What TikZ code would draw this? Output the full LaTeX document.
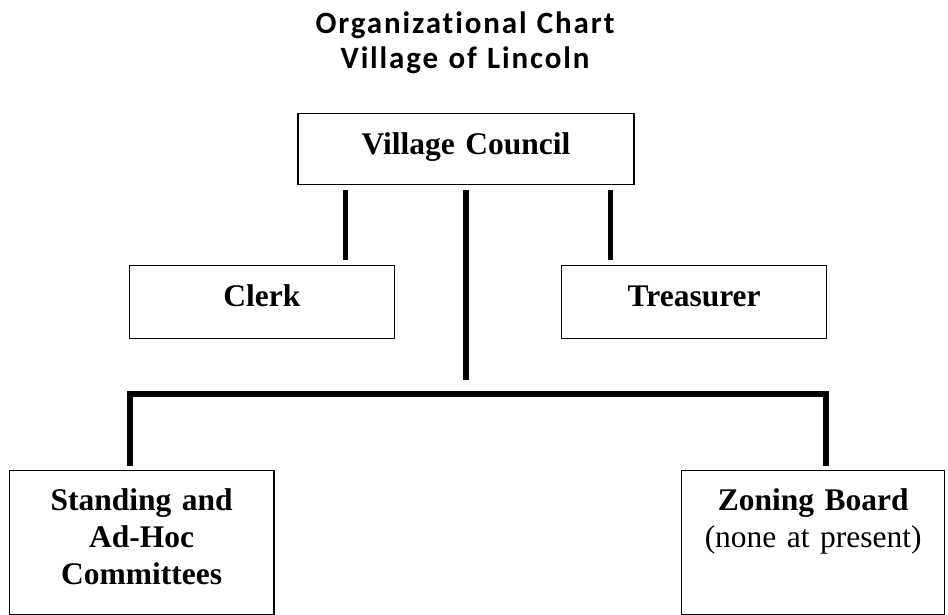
\documentclass[tikz,border=0pt]{standalone}
\usepackage{fontspec}
\setmainfont{Liberation Serif}
\newfontfamily\titlefont[Ligatures=NoCommon,LetterSpace=6]{Carlito}
\usetikzlibrary{positioning}
\usetikzlibrary{calc}

\begin{document}
\begin{tikzpicture}[x=1pt,y=1pt,line join=miter]
\tikzstyle{obox}=[draw,line width=1.3pt,inner sep=0pt,align=center,font=\bfseries\fontsize{31.5}{37}\selectfont]
\tikzstyle{tbox}=[obox,text width=265pt,text height=41pt,text depth=31.7pt,anchor=north]
\tikzstyle{bbox}=[obox,text height=40pt,text depth=104pt,anchor=north]
\tikzstyle{link}=[line width=5.6pt]

\useasboundingbox (0,0) rectangle (948,615);

\node[font=\titlefont\bfseries\fontsize{31}{35}\selectfont,align=center,text width=400pt,anchor=base] (title) at (465,581.7) {Organizational Chart\\Village of Lincoln};

\node[obox,text width=336pt,text height=41.3pt,text depth=30pt,anchor=north] (council) at (466,502.3) {Village Council};
\node[tbox] (clerk) at (261.8,350) {Clerk};
\node[tbox] (treasurer) at (694.2,350) {Treasurer};
\node[bbox,text width=264.7pt] (standing) at (141.7,145) {Standing and\\Ad-Hoc\\Committees};
\node[bbox,text width=263pt] (zoning) at (813.2,145) {Zoning Board\\\mdseries (none at present)};

\draw[link] ($(council.south west)+(48,-5)$) -- ($(council.south west |- clerk.north)+(48,5)$);
\draw[link] ($(council.south east)+(-24,-5)$) -- ($(council.south east |- treasurer.north)+(-24,5)$);
\coordinate (hub) at (466,235);
\draw[link] ($(council.south)+(0,-5)$) -- (hub);
\coordinate (split) at ($(hub)+(0,-14.3)$);
\draw[link] ($(standing.north)+(-11.7,4)$) |- (split) -| ($(zoning.north)+(12.5,4)$);
\end{tikzpicture}
\end{document}
